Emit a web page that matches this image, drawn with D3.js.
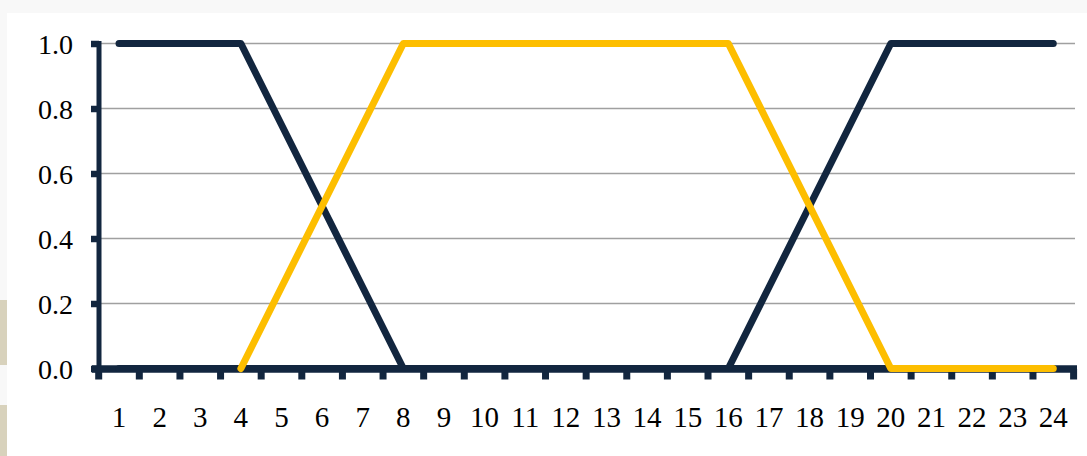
<!DOCTYPE html>
<html>
<head>
<meta charset="utf-8">
<script src="https://cdn.jsdelivr.net/npm/d3@7"></script>
<style>
  html, body { margin: 0; padding: 0; background: #f8f8f8; }
  svg { display: block; }
</style>
</head>
<body>
<svg id="chart" width="1087" height="456"></svg>
<script>
// Hours of the day on the category axis
const hours = d3.range(1, 25).map(String);
// Membership curves (null = not drawn at that hour)
const nightStart = [1, 1, 1, 1, 0.75, 0.5, 0.25, 0, 0, 0, 0, 0, 0, 0, 0, 0, 0, 0, 0, 0, 0, 0, 0, 0];
const nightEnd   = [0, 0, 0, 0, 0, 0, 0, 0, 0, 0, 0, 0, 0, 0, 0, 0, 0.25, 0.5, 0.75, 1, 1, 1, 1, 1];
const daytime    = [null, null, null, 0, 0.25, 0.5, 0.75, 1, 1, 1, 1, 1, 1, 1, 1, 1, 0.75, 0.5, 0.25, 0, 0, 0, 0, 0];
const yTicks = [0, 0.2, 0.4, 0.6, 0.8, 1.0];

const navy = "#12263f";
const gold = "#fdbe00";

const svg = d3.select("#chart");

// page background pieces
svg.append("rect").attr("x", 7).attr("y", 13).attr("width", 1080).attr("height", 443).attr("fill", "#ffffff");
svg.append("rect").attr("x", 0).attr("y", 300).attr("width", 7).attr("height", 65).attr("fill", "#d8d2bc");
svg.append("rect").attr("x", 0).attr("y", 405).attr("width", 7).attr("height", 51).attr("fill", "#d8d2bc");

const x = d3.scaleBand().domain(hours).range([98.7, 1073.6]).padding(0);
const y = d3.scaleLinear().domain([0, 1]).range([368.5, 43.5]);
const cx = h => x(h) + x.bandwidth() / 2;

// horizontal gridlines
svg.append("g").selectAll("line").data(yTicks.filter(d => d > 0)).join("line")
  .attr("x1", 100).attr("x2", 1075)
  .attr("y1", d => y(d)).attr("y2", d => y(d))
  .attr("stroke", "#a0a0a0").attr("stroke-width", 1.5);

// y axis
const yAxis = svg.append("g").attr("transform", "translate(99,0)")
  .call(d3.axisLeft(y).tickValues(yTicks).tickFormat(d3.format(".1f")).tickSize(8).tickPadding(18));
yAxis.select(".domain").remove();
yAxis.selectAll(".tick line").attr("stroke", navy).attr("stroke-width", 6.5);
yAxis.selectAll(".tick text")
  .attr("fill", "#000").attr("font-family", "'Liberation Serif', 'Times New Roman', serif")
  .attr("font-size", 28).attr("dy", "0.34em");
svg.append("line").attr("x1", 99).attr("x2", 99).attr("y1", 41).attr("y2", 372)
  .attr("stroke", navy).attr("stroke-width", 5);

// x axis with ticks on band boundaries
const boundaries = hours.map(h => x(h)).concat([x.range()[1]]);
svg.append("g").selectAll("line").data(boundaries).join("line")
  .attr("x1", d => d).attr("x2", d => d).attr("y1", 369).attr("y2", 379.5)
  .attr("stroke", navy).attr("stroke-width", 7);
svg.append("line").attr("x1", 92).attr("x2", 1077).attr("y1", 369).attr("y2", 369)
  .attr("stroke", navy).attr("stroke-width", 7.5);
const xAxis = svg.append("g").attr("transform", "translate(0,369)")
  .call(d3.axisBottom(x).tickSize(0).tickPadding(37));
xAxis.select(".domain").remove();
xAxis.selectAll(".tick text")
  .attr("fill", "#000").attr("font-family", "'Liberation Serif', 'Times New Roman', serif")
  .attr("font-size", 29);

// series lines
const line = d3.line()
  .defined(d => d.v !== null)
  .x(d => cx(d.h))
  .y(d => y(d.v));
const series = [
  { values: nightStart, color: navy },
  { values: nightEnd, color: navy },
  { values: daytime, color: gold }
];
svg.append("g").selectAll("path").data(series).join("path")
  .attr("d", s => line(s.values.map((v, i) => ({ h: hours[i], v }))))
  .attr("fill", "none")
  .attr("stroke", s => s.color)
  .attr("stroke-width", 7)
  .attr("stroke-linecap", "round")
  .attr("stroke-linejoin", "round");
</script>
</body>
</html>
